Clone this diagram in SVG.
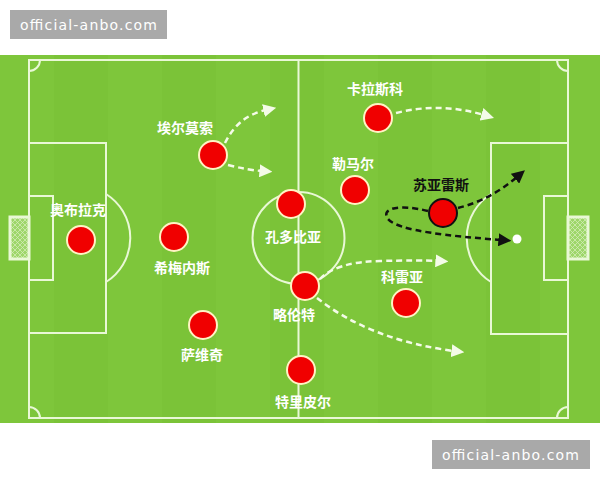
<svg xmlns="http://www.w3.org/2000/svg" width="600" height="480" viewBox="0 0 600 480">
<defs>
<style>
.line{fill:none;stroke:#e9f8d6;stroke-width:2}
.pl{fill:#f00000;stroke:#fff3c4;stroke-width:2}
.lbl{font-family:"Noto Sans CJK SC","Noto Sans",sans-serif;font-size:14px;font-weight:bold;fill:#ffffff;text-anchor:middle}
.wd{fill:none;stroke:#f4fbe8;stroke-width:2.5;stroke-dasharray:6 4}
.bd{fill:none;stroke:#111;stroke-width:2.5;stroke-dasharray:6 4}
.wm{font-family:"DejaVu Sans","Liberation Sans",sans-serif;font-size:14px;fill:#ffffff}
</style>
<marker id="aw" viewBox="0 0 10 10" refX="2" refY="5" markerWidth="13" markerHeight="13" markerUnits="userSpaceOnUse" orient="auto">
<path d="M0,0 L10,5 L0,10 Z" fill="#f4fbe8"/>
</marker>
<marker id="ab" viewBox="0 0 10 10" refX="2" refY="5" markerWidth="13" markerHeight="13" markerUnits="userSpaceOnUse" orient="auto">
<path d="M0,0 L10,5 L0,10 Z" fill="#111"/>
</marker>
<pattern id="net" width="5" height="5" patternUnits="userSpaceOnUse">
<path d="M0,0 L5,5 M5,0 L0,5" stroke="#d9efbf" stroke-width="0.7" fill="none"/>
</pattern>
</defs>
<rect width="600" height="480" fill="#ffffff"/>
<g id="watermark-top">
<rect x="10" y="10" width="157" height="29" fill="#a9a9a9"/>
<text class="wm" x="20" y="30" textLength="137">official-anbo.com</text>
</g>
<g id="pitch">
<rect x="0" y="55" width="600" height="368" fill="#7ec63b"/>
<rect x="54" y="55" width="54" height="368" fill="#76be35" opacity="0.35"/>
<rect x="162" y="55" width="54" height="368" fill="#76be35" opacity="0.35"/>
<rect x="270" y="55" width="54" height="368" fill="#76be35" opacity="0.35"/>
<rect x="378" y="55" width="54" height="368" fill="#76be35" opacity="0.35"/>
<rect x="486" y="55" width="54" height="368" fill="#76be35" opacity="0.35"/>
<rect class="line" x="29" y="60" width="539" height="358"/>
<line class="line" x1="298.5" y1="60" x2="298.5" y2="418"/>
<circle class="line" cx="298.5" cy="238" r="46"/>
<rect class="line" x="29" y="143" width="77" height="190"/>
<rect class="line" x="29" y="196" width="24" height="84"/>
<path class="line" d="M106,194 A52,52 0 0 1 106,282"/>
<rect class="line" x="491" y="143" width="77" height="191"/>
<rect class="line" x="544" y="196" width="24" height="84"/>
<path class="line" d="M491,194 A52,52 0 0 0 491,282"/>
<path class="line" d="M29,71 A11,11 0 0 0 40,60"/>
<path class="line" d="M557,60 A11,11 0 0 0 568,71"/>
<path class="line" d="M29,407 A11,11 0 0 1 40,418"/>
<path class="line" d="M557,418 A11,11 0 0 1 568,407"/>
<rect x="10" y="217" width="19" height="42" fill="#9ed66a"/>
<rect x="10" y="217" width="19" height="42" fill="url(#net)" stroke="#e9f8d6" stroke-width="3"/>
<rect x="568" y="217" width="20" height="42" fill="#9ed66a"/>
<rect x="568" y="217" width="20" height="42" fill="url(#net)" stroke="#e9f8d6" stroke-width="3"/>
</g>
<g id="connectors">
<path class="wd" d="M225,143 Q238,116 266,110" marker-end="url(#aw)"/>
<path class="wd" d="M228,165 Q248,170 262,171" marker-end="url(#aw)"/>
<path class="wd" d="M396,113 Q440,102 484,115" marker-end="url(#aw)"/>
<path class="wd" d="M320,279 Q336,262 380,261 Q420,260 438,261" marker-end="url(#aw)"/>
<path class="wd" d="M317,298 Q370,340 454,351" marker-end="url(#aw)"/>
<path class="bd" d="M458,208 Q490,200 517,177" marker-end="url(#ab)"/>
<path class="bd" d="M428,211 C400,204 380,208 388,219 C398,231 450,236 501,240" marker-end="url(#ab)"/>
<circle cx="517" cy="239" r="4.5" fill="#ffffff"/>
</g>
<g id="oblak"><circle class="pl" cx="81" cy="240" r="14"/><text class="lbl" x="78" y="215">奥布拉克</text></g>
<g id="hermoso"><circle class="pl" cx="213" cy="155" r="14"/><text class="lbl" x="185" y="133">埃尔莫索</text></g>
<g id="gimenez"><circle class="pl" cx="174" cy="237" r="14"/><text class="lbl" x="182" y="273">希梅内斯</text></g>
<g id="savic"><circle class="pl" cx="203" cy="325" r="14"/><text class="lbl" x="202" y="360">萨维奇</text></g>
<g id="kondogbia"><circle class="pl" cx="291" cy="204" r="14"/><text class="lbl" x="293" y="242">孔多比亚</text></g>
<g id="llorente"><circle class="pl" cx="305" cy="286" r="14"/><text class="lbl" x="294" y="320">略伦特</text></g>
<g id="trippier"><circle class="pl" cx="301" cy="370" r="14"/><text class="lbl" x="303" y="407">特里皮尔</text></g>
<g id="carrasco"><circle class="pl" cx="378" cy="118" r="14"/><text class="lbl" x="375" y="94">卡拉斯科</text></g>
<g id="lemar"><circle class="pl" cx="355" cy="190" r="14"/><text class="lbl" x="353" y="169">勒马尔</text></g>
<g id="correa"><circle class="pl" cx="406" cy="303" r="14"/><text class="lbl" x="402" y="282">科雷亚</text></g>
<g id="suarez"><circle cx="443" cy="213" r="14" fill="#f00000" stroke="#111" stroke-width="2"/><text class="lbl" x="441" y="190" style="fill:#111">苏亚雷斯</text></g>
<g id="watermark-bottom">
<rect x="432" y="440" width="158" height="29" fill="#a9a9a9"/>
<text class="wm" x="442" y="460" textLength="137">official-anbo.com</text>
</g>
</svg>
